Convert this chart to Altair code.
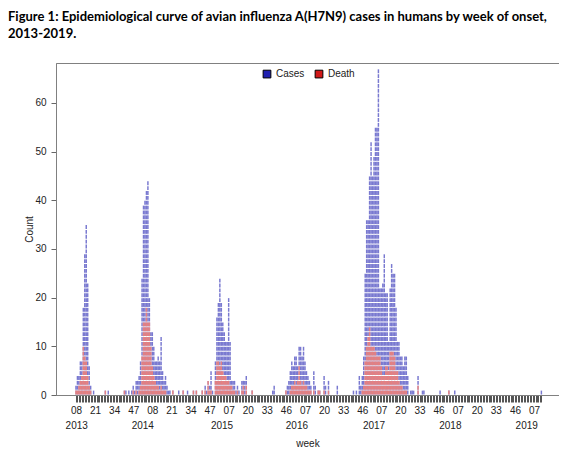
import altair as alt
import pandas as pd
import json

# Weekly counts by week of onset; index 0 = 2013 week 08 ... index 317 = 2019 week 12
# each row below covers 13 weeks (one interval between x-axis labels)
cases = [
    2, 4, 4, 7, 7, 18, 29, 35, 23, 6, 2, 0, 1,
    0, 0, 0, 0, 0, 0, 0, 1, 0, 1, 0, 0, 0,
    0, 0, 0, 0, 0, 0, 0, 1, 1, 0, 1, 0, 1,
    2, 1, 3, 3, 4, 7, 24, 39, 40, 42, 44, 20, 13,
    13, 10, 7, 7, 8, 7, 12, 5, 3, 4, 2, 1, 1,
    0, 1, 0, 0, 0, 1, 0, 0, 1, 0, 0, 1, 0,
    0, 0, 1, 0, 1, 0, 0, 0, 1, 0, 2, 1, 3,
    2, 5, 1, 0, 7, 16, 19, 24, 19, 15, 13, 11, 11,
    20, 11, 3, 3, 3, 1, 2, 1, 0, 3, 3, 3, 4,
    0, 0, 0, 1, 0, 0, 0, 0, 0, 0, 0, 0, 0,
    0, 0, 0, 0, 1, 2, 0, 0, 0, 0, 0, 0, 0,
    1, 2, 3, 5, 7, 6, 8, 8, 6, 10, 10, 8, 10,
    7, 5, 4, 3, 2, 0, 5, 2, 0, 1, 1, 0, 0,
    4, 2, 0, 3, 0, 0, 0, 0, 0, 2, 0, 0, 0,
    0, 0, 0, 0, 0, 0, 0, 1, 0, 1, 0, 4, 2,
    4, 8, 25, 36, 36, 45, 52, 45, 49, 55, 55, 67, 22,
    22, 23, 29, 21, 21, 11, 22, 27, 25, 25, 18, 11, 11,
    8, 8, 6, 8, 8, 4, 0, 1, 1, 1, 0, 0, 4,
    0, 0, 1, 1, 0, 0, 0, 0, 0, 0, 0, 0, 0,
    0, 1, 0, 0, 0, 0, 0, 1, 0, 0, 0, 1, 0,
    0, 0, 0, 0, 0, 0, 0, 0, 0, 0, 0, 0, 0,
    0, 0, 0, 0, 0, 0, 0, 0, 0, 0, 0, 0, 0,
    0, 0, 0, 0, 0, 0, 0, 0, 0, 0, 0, 0, 0,
    0, 0, 0, 0, 0, 0, 0, 0, 0, 0, 0, 0, 0,
    0, 0, 0, 0, 0, 1,
]

deaths = [
    1, 1, 2, 3, 4, 10, 8, 7, 4, 2, 1, 0, 0,
    0, 0, 0, 0, 0, 0, 0, 1, 0, 0, 0, 0, 0,
    0, 0, 0, 0, 0, 0, 0, 1, 0, 0, 0, 0, 0,
    1, 0, 1, 0, 1, 2, 8, 15, 15, 18, 15, 15, 10,
    6, 4, 3, 2, 2, 1, 2, 1, 1, 1, 0, 0, 0,
    0, 1, 0, 0, 0, 0, 0, 0, 1, 0, 0, 0, 0,
    0, 0, 1, 0, 1, 0, 0, 0, 1, 0, 1, 0, 3,
    1, 1, 0, 0, 3, 7, 7, 6, 7, 5, 4, 4, 3,
    3, 2, 2, 1, 1, 0, 1, 0, 0, 1, 2, 0, 2,
    0, 0, 0, 1, 0, 0, 0, 0, 0, 0, 0, 0, 0,
    0, 0, 0, 0, 0, 0, 0, 0, 0, 0, 0, 0, 0,
    1, 0, 0, 1, 2, 2, 3, 2, 3, 6, 3, 2, 3,
    2, 2, 1, 1, 1, 0, 1, 0, 0, 1, 1, 0, 0,
    1, 0, 0, 1, 0, 0, 0, 0, 0, 0, 0, 0, 0,
    0, 0, 0, 0, 0, 0, 0, 0, 0, 0, 0, 0, 0,
    1, 2, 7, 10, 12, 14, 10, 10, 10, 9, 8, 8, 8,
    6, 4, 4, 6, 6, 5, 9, 9, 9, 8, 5, 5, 3,
    2, 2, 1, 1, 1, 0, 0, 0, 0, 0, 0, 0, 2,
    0, 0, 0, 0, 0, 0, 0, 0, 0, 0, 0, 0, 0,
    0, 0, 0, 0, 0, 0, 0, 1, 0, 0, 0, 0, 0,
    0, 0, 0, 0, 0, 0, 0, 0, 0, 0, 0, 0, 0,
    0, 0, 0, 0, 0, 0, 0, 0, 0, 0, 0, 0, 0,
    0, 0, 0, 0, 0, 0, 0, 0, 0, 0, 0, 0, 0,
    0, 0, 0, 0, 0, 0, 0, 0, 0, 0, 0, 0, 0,
    0, 0, 0, 0, 0, 0,
]

week_labels = ["08", "21", "34", "47", "08", "21", "34", "47", "07", "20", "33", "46",
               "07", "20", "33", "46", "07", "20", "33", "46", "07", "20", "33", "46", "07"]
years = ["2013", "2014", "2015", "2016", "2017", "2018", "2019"]
year_week_index = [0.5, 45.5, 99.5, 150.5, 203, 255, 307]
series = ["Cases", "Death"]

# one row per case / death unit box
rows = []
for w, n in enumerate(cases):
    for k in range(1, n + 1):
        rows.append({"week": w, "unit": k, "type": "Cases"})
for w, n in enumerate(deaths):
    for k in range(1, n + 1):
        rows.append({"week": w, "unit": k, "type": "Death"})
units = pd.DataFrame(rows)

n_weeks = len(cases)
xscale = alt.Scale(domain=[-13.6, 329.0], nice=False, zero=False)
yscale = alt.Scale(domain=[0, 68.2], nice=False, zero=True)

label_expr = ("datum.value % 13 == 0 ? " + json.dumps(week_labels) +
              "[round(datum.value / 13)] : ''")

FONT = "Liberation Sans"

x_axis = alt.Axis(
    values=list(range(n_weeks)), labelExpr=label_expr, tickSize=7,
    tickColor="#555555", tickWidth=1, labelOverlap=False, labelFlush=False,
    labelBound=False, labelPadding=3, labelFontSize=10, labelFont=FONT,
    labelColor="#222222", domainColor="#808080", grid=False, title="week",
    titleFont=FONT, titleFontSize=10, titleFontWeight="normal",
    titleColor="#222222", titlePadding=23)
y_axis = alt.Axis(
    values=[0, 10, 20, 30, 40, 50, 60], tickSize=5, tickColor="#666666",
    labelFontSize=10, labelFont=FONT, labelColor="#222222", labelPadding=5,
    domainColor="#808080", grid=False, title="Count", titleFont=FONT,
    titleFontSize=10, titleFontWeight="normal", titleColor="#222222",
    titlePadding=0)

color_scale = alt.Scale(domain=series, range=["#2020b0", "#d01818"])
legend = alt.Legend(orient="none", legendX=206, legendY=6, direction="horizontal",
                    title=None, symbolType="square", symbolSize=60,
                    symbolStrokeColor="black", symbolStrokeWidth=1, symbolOpacity=1,
                    labelFontSize=10, labelFont=FONT, labelColor="#222222",
                    labelOffset=4, columnPadding=8, padding=0)

base = alt.Chart(units).transform_calculate(
    x0="datum.week - 0.5", x1="datum.week + 0.5",
    y0="datum.unit - 0.9", y1="datum.unit - 0.1",
)
enc = dict(
    x=alt.X("x0:Q", scale=xscale, axis=x_axis),
    x2="x1:Q",
    y=alt.Y("y0:Q", scale=yscale, axis=y_axis),
    y2="y1:Q",
)

case_boxes = base.transform_filter("datum.type == 'Cases'").mark_rect(
    strokeWidth=0, opacity=0.6).encode(
    color=alt.Color("type:N", scale=color_scale, legend=legend), **enc)

death_under = base.transform_filter("datum.type == 'Death'").mark_rect(
    strokeWidth=0, color="white", opacity=1).encode(**enc)

death_boxes = base.transform_filter("datum.type == 'Death'").mark_rect(
    strokeWidth=0, opacity=0.55).encode(
    color=alt.Color("type:N", scale=color_scale, legend=legend), **enc)

year_df = pd.DataFrame({"year": years, "pos": year_week_index})
year_text = alt.Chart(year_df).mark_text(fontSize=10, font=FONT, color="#222222",
                                         baseline="middle").encode(
    x=alt.X("pos:Q", scale=xscale, axis=x_axis),
    y=alt.value(363),
    text="year:N",
)

chart = alt.layer(case_boxes, death_under, death_boxes, year_text).properties(
    width=503, height=332,
    autosize=alt.AutoSizeParams(type="none"),
    padding={"left": 48, "top": 55, "right": 0, "bottom": 52},
    title=alt.Title(
        text=["Figure 1: Epidemiological curve of avian influenza A(H7N9) cases in humans by week of onset,",
              "2013-2019."],
        anchor="start", frame="group", dx=-48, font="Lato", fontSize=13,
        fontWeight="bold", color="black", lineHeight=17, offset=22),
).configure_view(stroke="#808080", strokeWidth=1)

chart.save("out.html", embed_options={"renderer": "svg", "actions": False})
